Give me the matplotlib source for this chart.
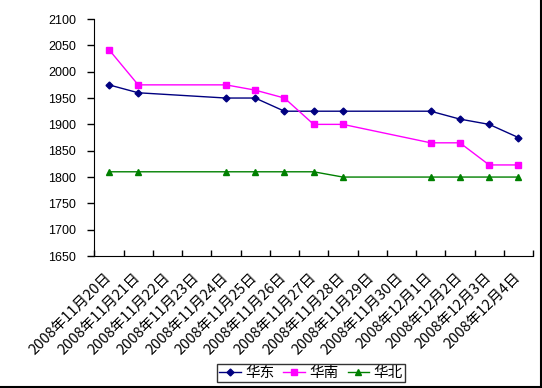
import numpy as np
import matplotlib
matplotlib.use("Agg")
import matplotlib.pyplot as plt
from matplotlib.lines import Line2D

plt.rcParams['font.family'] = ['Noto Sans CJK SC', 'DejaVu Sans']

# categories on the x axis (one per day)
dates = ["2008年11月20日", "2008年11月21日", "2008年11月22日", "2008年11月23日",
         "2008年11月24日", "2008年11月25日", "2008年11月26日", "2008年11月27日",
         "2008年11月28日", "2008年11月29日", "2008年11月30日", "2008年12月1日",
         "2008年12月2日", "2008年12月3日", "2008年12月4日"]
# days with prices (no weekends)
obs_dates = ["2008年11月20日", "2008年11月21日", "2008年11月24日", "2008年11月25日",
             "2008年11月26日", "2008年11月27日", "2008年11月28日", "2008年12月1日",
             "2008年12月2日", "2008年12月3日", "2008年12月4日"]
huadong = [1975, 1960, 1950, 1950, 1925, 1925, 1925, 1925, 1910, 1900, 1875]
huanan = [2042, 1975, 1975, 1965, 1950, 1900, 1900, 1865, 1865, 1823, 1823]
huabei = [1810, 1810, 1810, 1810, 1810, 1810, 1800, 1800, 1800, 1800, 1800]
yticks = [1650, 1700, 1750, 1800, 1850, 1900, 1950, 2000, 2050, 2100]

fig = plt.figure(figsize=(5.42, 3.88), dpi=100)
ax = fig.add_axes([0.174, 0.340, 0.8094, 0.611])

xpos = [dates.index(d) for d in obs_dates]
ax.plot(xpos, huadong, color="#000080", marker="D", markersize=3.5, lw=1, label="华东")
ax.plot(xpos, huanan, color="#FF00FF", marker="s", markersize=5, lw=1, label="华南")
ax.plot(xpos, huabei, color="#008000", marker="^", markersize=5, lw=1, label="华北")

ax.set_xlim(-0.5, len(dates) - 0.5)
ax.set_ylim(1650, 2100)
ax.set_yticks(yticks)
ax.set_yticklabels([str(v) for v in yticks], family="Liberation Sans", fontsize=9)
ax.tick_params(axis="y", direction="out", length=5, width=1, pad=8)

ax.set_xticks(np.arange(len(dates)))
ax.set_xticklabels(dates, rotation=45, ha="right", va="center", rotation_mode="anchor", fontsize=10.5)
ax.set_xticks(np.arange(len(dates) + 1) - 0.5, minor=True)
ax.tick_params(axis="x", which="major", length=0, pad=14)
ax.tick_params(axis="x", which="minor", direction="in", length=4, width=1)

ax.spines["top"].set_visible(False)
ax.spines["right"].set_visible(False)

leg = fig.legend(loc="center", bbox_to_anchor=(311 / 542, 1 - 373 / 388), ncol=3,
                 frameon=True, fancybox=False, edgecolor="black", fontsize=10.5,
                 handlelength=1.5, columnspacing=0.6, handletextpad=0.3,
                 borderpad=0.15, borderaxespad=0)
leg.get_frame().set_linewidth(1)

# chart border (only right and bottom edges show)
fig.add_artist(Line2D([0, 541 / 542], [1.5 / 388, 1.5 / 388], color="black", lw=1.5))
fig.add_artist(Line2D([541 / 542, 541 / 542], [1.5 / 388, 1], color="black", lw=1.5))

fig.savefig("out.png", dpi=100)
